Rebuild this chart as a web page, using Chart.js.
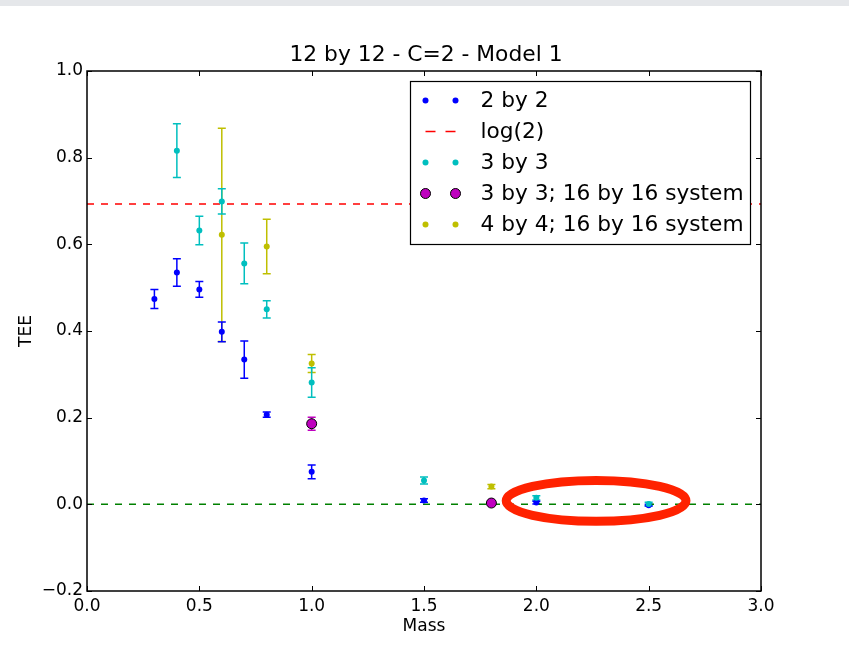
<!DOCTYPE html>
<html>
<head>
<meta charset="utf-8">
<script src="https://cdn.jsdelivr.net/npm/chart.js@4.4.1/dist/chart.umd.min.js"></script>
<style>
  html, body { margin: 0; padding: 0; background: #fff; }
  #teeChart { display: block; }
</style>
</head>
<body>
<canvas id="teeChart" width="849" height="650"></canvas>
<script>
/* ================================
   Data
================================ */
const mass2x2 = [0.3, 0.4, 0.5, 0.6, 0.7, 0.8, 1.0, 1.5, 2.0, 2.5];
const tee2x2  = [0.474, 0.535, 0.496, 0.398, 0.334, 0.207, 0.075, 0.009, 0.004, -0.002];
const err2x2  = [0.022, 0.032, 0.018, 0.023, 0.043, 0.006, 0.016, 0.004, 0.003, 0.002];

const mass3x3 = [0.4, 0.5, 0.6, 0.7, 0.8, 1.0, 1.5, 2.0, 2.5];
const tee3x3  = [0.816, 0.632, 0.699, 0.556, 0.450, 0.281, 0.055, 0.015, 0.001];
const err3x3  = [0.062, 0.033, 0.029, 0.047, 0.020, 0.034, 0.008, 0.005, 0.004];

const mass3x3big = [1.0, 1.8];
const tee3x3big  = [0.186, 0.003];
const err3x3big  = [0.015, 0.002];

const mass4x4big = [0.6, 0.8, 1.0, 1.8];
const tee4x4big  = [0.622, 0.595, 0.325, 0.041];
const err4x4big  = [0.246, 0.063, 0.021, 0.005];

const log2Value = 0.693;
const lineSpan = [0, 3];

const xTicks = { min: 0, max: 3, step: 0.5 };
const yTicks = { min: -0.2, max: 1.0, step: 0.2 };

// highlighted region (data units): centre x, centre y, radius x, radius y
const highlight = [2.266, 0.008, 0.40, 0.047];

const FONT = "'DejaVu Sans', sans-serif";

/* ================================
   Helpers
================================ */
function toPoints(xs, ys) {
  return xs.map((x, i) => ({ x, y: ys[i] }));
}

function fmtTick(v) {
  const s = (Math.abs(v) < 1e-9 ? 0 : v).toFixed(1);
  return s.replace("-", "\u2212");
}

/* ================================
   Plugins
================================ */
const errorBars = {
  id: "errorBars",
  beforeDatasetsDraw(chart) {
    const { ctx, scales: { x, y } } = chart;
    chart.data.datasets.forEach(ds => {
      if (!ds.errors) return;
      ctx.save();
      ctx.strokeStyle = ds.barColor;
      ctx.lineWidth = 1.5;
      ds.data.forEach((p, i) => {
        const px = x.getPixelForValue(p.x);
        const top = y.getPixelForValue(p.y + ds.errors[i]);
        const bot = y.getPixelForValue(p.y - ds.errors[i]);
        ctx.beginPath();
        ctx.moveTo(px, top); ctx.lineTo(px, bot);
        ctx.moveTo(px - 4, top); ctx.lineTo(px + 4, top);
        ctx.moveTo(px - 4, bot); ctx.lineTo(px + 4, bot);
        ctx.stroke();
      });
      ctx.restore();
    });
  }
};

const decorations = {
  id: "decorations",
  beforeDraw(chart) {
    const ctx = chart.ctx;
    ctx.save();
    ctx.fillStyle = "#e5e7ea";
    ctx.fillRect(0, 0, chart.width, 6);
    ctx.restore();
  },
  afterDatasetsDraw(chart) {
    const { ctx, chartArea: a, scales: { x, y } } = chart;
    ctx.save();

    // frame
    ctx.strokeStyle = "#000";
    ctx.lineWidth = 1.5;
    ctx.strokeRect(a.left, a.top, a.right - a.left, a.bottom - a.top);

    // inward ticks on all sides
    ctx.lineWidth = 1;
    x.ticks.forEach(t => {
      const px = Math.round(x.getPixelForValue(t.value)) + 0.5;
      ctx.beginPath();
      ctx.moveTo(px, a.bottom); ctx.lineTo(px, a.bottom - 5);
      ctx.moveTo(px, a.top); ctx.lineTo(px, a.top + 5);
      ctx.stroke();
    });
    y.ticks.forEach(t => {
      const py = Math.round(y.getPixelForValue(t.value)) + 0.5;
      ctx.beginPath();
      ctx.moveTo(a.left, py); ctx.lineTo(a.left + 5, py);
      ctx.moveTo(a.right, py); ctx.lineTo(a.right - 5, py);
      ctx.stroke();
    });

    // red hand-drawn style ellipse
    const [cx, cy, rx, ry] = highlight;
    const ex = x.getPixelForValue(cx);
    const ey = y.getPixelForValue(cy);
    const erx = x.getPixelForValue(cx + rx) - ex;
    const ery = ey - y.getPixelForValue(cy + ry);
    ctx.strokeStyle = "#ff2200";
    ctx.lineWidth = 9;
    ctx.beginPath();
    ctx.ellipse(ex, ey, erx, ery, 0, 0, Math.PI * 2);
    ctx.stroke();

    // titles
    ctx.fillStyle = "#000";
    ctx.textAlign = "center";
    ctx.textBaseline = "middle";
    ctx.font = "21.8px " + FONT;
    ctx.fillText("12 by 12 - C=2 - Model 1", (a.left + a.right) / 2 + 2, 55);
    ctx.font = "17px " + FONT;
    ctx.fillText("Mass", (a.left + a.right) / 2, 627);
    ctx.translate(27, (a.top + a.bottom) / 2);
    ctx.rotate(-Math.PI / 2);
    ctx.fillText("TEE", 0, 0);
    ctx.restore();
  },
  afterDraw(chart) {
    const ctx = chart.ctx;
    const box = { left: 410.5, top: 81.5, width: 340, height: 163 };
    ctx.save();
    ctx.fillStyle = "#fff";
    ctx.fillRect(box.left, box.top, box.width, box.height);
    ctx.strokeStyle = "#000";
    ctx.lineWidth = 1.2;
    ctx.strokeRect(box.left, box.top, box.width, box.height);

    const entries = chart.data.datasets
      .filter(ds => ds.legendIndex !== undefined)
      .sort((p, q) => p.legendIndex - q.legendIndex);

    entries.forEach((ds, i) => {
      const ry = box.top + 19 + i * 31;
      const m1 = box.left + 15, m2 = box.left + 45;
      if (ds.isLine) {
        ctx.strokeStyle = ds.borderColor;
        ctx.lineWidth = 1.5;
        ctx.setLineDash([10, 10]);
        ctx.beginPath();
        ctx.moveTo(m1, ry); ctx.lineTo(m2 + 1, ry);
        ctx.stroke();
        ctx.setLineDash([]);
      } else {
        [m1, m2].forEach(mx => {
          ctx.beginPath();
          ctx.arc(mx, ry, ds.pointRadius, 0, Math.PI * 2);
          ctx.fillStyle = ds.pointBackgroundColor;
          ctx.fill();
          if (ds.pointBorderWidth) {
            ctx.lineWidth = ds.pointBorderWidth;
            ctx.strokeStyle = ds.pointBorderColor;
            ctx.stroke();
          }
        });
      }
      ctx.fillStyle = "#000";
      ctx.font = "21.7px " + FONT;
      ctx.textAlign = "left";
      ctx.textBaseline = "middle";
      ctx.fillText(ds.label, box.left + 70, ry + 1);
    });
    ctx.restore();
  }
};

/* ================================
   Datasets
================================ */
function dots(label, xs, ys, errs, color, legendIndex, order) {
  return {
    type: "scatter",
    label,
    data: toPoints(xs, ys),
    errors: errs,
    barColor: color,
    legendIndex,
    order,
    showLine: false,
    pointRadius: 3,
    pointHoverRadius: 3,
    pointBackgroundColor: color,
    pointBorderColor: color,
    pointBorderWidth: 0
  };
}

function hline(label, yVal, color, legendIndex, order) {
  return {
    type: "line",
    label,
    data: lineSpan.map(x => ({ x, y: yVal })),
    isLine: true,
    legendIndex,
    order,
    borderColor: color,
    borderWidth: 1.5,
    borderDash: [7, 7],
    pointRadius: 0,
    fill: false
  };
}

const big3 = dots("3 by 3; 16 by 16 system", mass3x3big, tee3x3big, err3x3big, "#bf00bf", 3, 1);
big3.pointRadius = 5;
big3.pointHoverRadius = 5;
big3.pointBorderColor = "#000";
big3.pointBorderWidth = 1;

const datasets = [
  dots("4 by 4; 16 by 16 system", mass4x4big, tee4x4big, err4x4big, "#bfbf00", 4, 0),
  big3,
  dots("3 by 3", mass3x3, tee3x3, err3x3, "#00bfbf", 2, 2),
  hline("log(2)", log2Value, "#ff0000", 1, 3),
  dots("2 by 2", mass2x2, tee2x2, err2x2, "#0000ff", 0, 4),
  hline("zero", 0, "#008000", undefined, 5)
];

/* ================================
   Chart
================================ */
new Chart(document.getElementById("teeChart"), {
  type: "scatter",
  data: { datasets },
  plugins: [errorBars, decorations],
  options: {
    responsive: false,
    animation: false,
    layout: { padding: { top: 71, right: 88, bottom: 0, left: 0 } },
    plugins: {
      legend: { display: false },
      tooltip: { enabled: false },
      title: { display: false }
    },
    scales: {
      x: {
        type: "linear",
        min: xTicks.min,
        max: xTicks.max,
        grid: { display: false, drawTicks: false },
        border: { display: false },
        ticks: {
          stepSize: xTicks.step,
          padding: 5,
          color: "#000",
          font: { family: FONT, size: 17 },
          maxRotation: 0,
          callback: fmtTick
        },
        afterFit: s => { s.height = 59; }
      },
      y: {
        type: "linear",
        min: yTicks.min,
        max: yTicks.max,
        grid: { display: false, drawTicks: false },
        border: { display: false },
        ticks: {
          stepSize: yTicks.step,
          padding: 4,
          color: "#000",
          font: { family: FONT, size: 17 },
          callback: fmtTick
        },
        afterFit: s => { s.width = 87; }
      }
    }
  }
});
</script>
</body>
</html>
